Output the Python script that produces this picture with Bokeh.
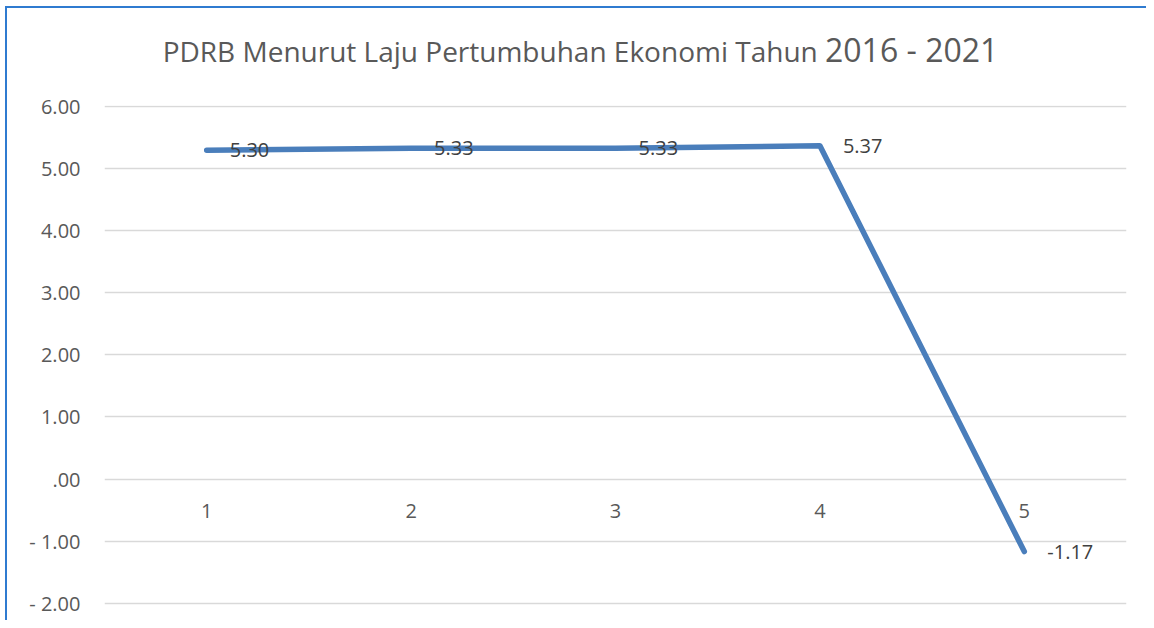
from bokeh.plotting import figure
from bokeh.models import Range1d, FixedTicker, Div, InlineStyleSheet
from bokeh.layouts import column
from bokeh.core.properties import value
from bokeh.embed import file_html
from bokeh.resources import INLINE

# ---- data ----
categories = [1, 2, 3, 4, 5]
growth = [5.30, 5.33, 5.33, 5.37, -1.17]
y_ticks = [-2, -1, 0, 1, 2, 3, 4, 5, 6]
y_tick_labels = ["- 2.00", "- 1.00", ".00", "1.00", "2.00", "3.00", "4.00", "5.00", "6.00"]
title_main = "PDRB Menurut Laju Pertumbuhan Ekonomi Tahun"
title_years = "2016 - 2021"

FONT = "Open Sans"
TXT = "#595959"
LINE = "#4A7EBB"
BORDER = "#2F7BD0"

title_div = Div(
    text=(f'<div style="width:1146px;box-sizing:border-box;padding-left:15px;text-align:center;'
          f'font-family:\'{FONT}\';color:{TXT};line-height:1;padding-top:34px;white-space:nowrap">'
          f'<span style="font-size:28px">{title_main} </span>'
          f'<span style="font-size:32px">{title_years}</span></div>'),
    width=1146, height=80, margin=0, styles={"overflow": "hidden"},
)

p = figure(
    frame_width=1022, frame_height=510,
    min_border_left=104, min_border_right=20, min_border_top=25, min_border_bottom=5,
    x_range=Range1d(0.5, 5.5), y_range=Range1d(-2.2, 6.02),
    output_backend="svg", toolbar_location=None,
    background_fill_color="white", border_fill_color=None, margin=0,
)
p.outline_line_color = None

p.xaxis.visible = False
p.xgrid.visible = False

yax = p.yaxis[0]
yax.ticker = FixedTicker(ticks=y_ticks)
yax.major_label_overrides = {t: l for t, l in zip(y_ticks, y_tick_labels)}
yax.axis_line_color = None
yax.major_tick_line_color = None
yax.minor_tick_line_color = None
yax.major_tick_out = 0
yax.major_label_standoff = 24
yax.major_label_text_font = FONT
yax.major_label_text_font_size = "20px"
yax.major_label_text_color = TXT

p.ygrid.ticker = FixedTicker(ticks=y_ticks)
p.ygrid.grid_line_color = "#D9D9D9"
p.ygrid.grid_line_width = 1.5

p.line(categories, growth, line_color=LINE, line_width=5.5, line_join="round", line_cap="round")

# category labels along the zero line
p.text(categories, [0] * len(categories), text=[str(c) for c in categories],
       text_font=value(FONT), text_font_size="20px", text_color=TXT,
       text_align="center", text_baseline="middle", y_offset=32)

# data labels
p.text(categories, growth, text=[f"{v:.2f}" for v in growth],
       text_font=value(FONT), text_font_size="20px", text_color="#404040",
       text_align="left", text_baseline="middle", x_offset=23)

layout = column(title_div, p, spacing=0, margin=0)
layout.stylesheets = [InlineStyleSheet(css=(
    f":host {{ background: linear-gradient({BORDER},{BORDER}) 5px 6px / 2px 100% no-repeat, "
    f"linear-gradient({BORDER},{BORDER}) 5px 6px / 100% 2px no-repeat, white; }}"))]

open("out.html", "w").write(file_html(layout, INLINE))
